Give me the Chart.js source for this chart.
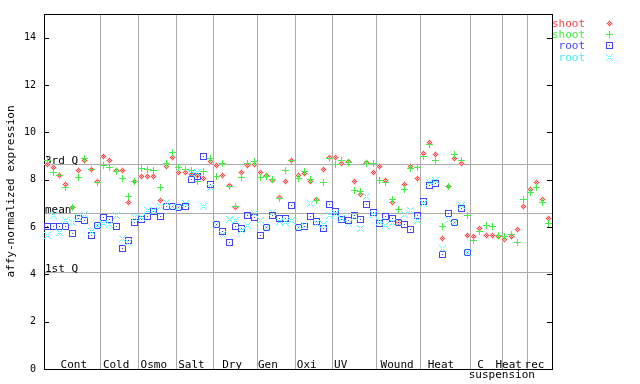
<!DOCTYPE html>
<html>
<head>
<meta charset="utf-8">
<script src="https://cdn.jsdelivr.net/npm/chart.js@4.4.1/dist/chart.umd.min.js"></script>
<style>
  html, body { margin: 0; padding: 0; background: #fff; }
  canvas { display: block; }
</style>
</head>
<body>
<canvas id="exprChart" width="640" height="384"></canvas>
<script>
// categories along the x axis (samples per group)
const categories = ["Cont", "Cold", "Osmo", "Salt", "Dry", "Gen", "Oxi", "UV", "Wound", "Heat", "C", "Heat", "rec"];
const catSizes = [9, 6, 6, 6, 7, 6, 6, 7, 7, 8, 5, 4, 4];
const catLabelAt = [4.75, 11.5, 17.5, 23.5, 30, 35.7, 41.9, 47.3, 56.3, 63.3, 69.6, 74.1, 78.2];
const yTicks = [0, 2, 4, 6, 8, 10, 12, 14];

const refNames = ["3rd Q", "mean", "1st Q"];
const refValues = [8.68, 6.61, 4.08];

// shoot, replicate 1 (red)
const shoot1 = [
  8.65, 8.51, 8.19, 7.80, 6.83, 8.40, 8.82, 8.41, 7.91,
  8.98, 8.82, 8.40, 8.40, 7.04, 7.94,
  8.13, 8.13, 8.13, 7.13, 8.57, 8.92,
  8.30, 8.30, 8.23, 8.17, 8.05, 8.75,
  8.60, 8.18, 7.77, 6.81, 8.30, 8.61, 8.65,
  8.30, 8.19, 7.95, 7.25, 7.94, 8.82,
  8.19, 8.26, 7.91, 7.18, 8.43, 8.94,
  8.94, 8.68, 8.78, 7.94, 7.37, 8.72, 8.30,
  8.56, 7.98, 7.02, 6.20, 7.80, 8.54, 8.05,
  9.10, 9.55, 9.06, 5.52, 7.71, 8.89, 8.68, 5.64,
  5.60, 5.94, 5.64, 5.64, 5.60,
  5.47, 5.60, 5.90, 6.87,
  7.59, 7.88, 7.16, 6.36
];

// shoot, replicate 2 (green)
const shoot2 = [
  8.82, 8.30, 8.19, 7.67, 6.83, 8.09, 8.89, 8.41, 7.88,
  8.60, 8.51, 8.33, 8.05, 7.29, 7.94,
  8.49, 8.44, 8.39, 7.67, 8.67, 9.15,
  8.51, 8.43, 8.39, 7.94, 8.36, 8.89,
  8.12, 8.68, 7.73, 6.85, 8.09, 8.70, 8.75,
  8.09, 8.12, 8.01, 7.20, 8.39, 8.82,
  8.05, 8.36, 8.01, 7.13, 7.88, 8.89,
  8.65, 8.81, 8.72, 7.56, 7.49, 8.68, 8.68,
  7.98, 7.88, 7.18, 6.74, 7.60, 8.47, 8.51,
  9.00, 9.50, 8.81, 6.02, 7.71, 9.06, 8.81, 6.49,
  5.43, 5.81, 6.07, 6.02, 5.64,
  5.60, 5.69, 5.35, 7.16,
  7.46, 7.67, 7.04, 6.15
];

// root, replicate 1 (blue) - no root samples after Heat
const root1 = [
  6.03, 6.03, 6.03, 6.03, 5.73, 6.36, 6.28, 5.66, 6.05,
  6.42, 6.32, 6.04, 5.09, 5.43, 6.19,
  6.32, 6.46, 6.67, 6.45, 6.87, 6.85,
  6.82, 6.85, 8.01, 8.15, 9.00, 7.80,
  6.11, 5.80, 5.35, 6.03, 5.93, 6.49, 6.40,
  5.65, 5.97, 6.48, 6.35, 6.35, 6.90,
  5.97, 6.01, 6.44, 6.23, 5.95, 6.95,
  6.67, 6.33, 6.28, 6.50, 6.32, 6.95, 6.61,
  6.16, 6.44, 6.36, 6.20, 6.11, 5.90, 6.50,
  7.07, 7.77, 7.85, 4.84, 6.57, 6.19, 6.78, 4.91,
  null, null, null, null, null,
  null, null, null, null,
  null, null, null, null
];

// root, replicate 2 (cyan)
const root2 = [
  5.65, 6.47, 5.78, 6.26, 6.19, 6.42, 6.53, 5.81, 6.07,
  6.14, 6.11, 6.50, 5.52, 5.35, 6.42,
  6.39, 6.71, 6.71, 6.85, 7.02, 6.85,
  6.82, 6.99, 8.26, 8.30, 6.85, 7.67,
  6.11, 5.70, 6.32, 6.29, 5.85, 6.08, 6.56,
  6.29, 5.97, 6.61, 6.25, 6.19, 6.28,
  6.00, 6.05, 6.99, 6.13, 6.10, 6.50,
  6.56, 6.36, 6.14, 6.44, 5.94, 7.30, 6.52,
  6.25, 6.06, 6.18, 6.20, 6.53, 6.71, 6.29,
  6.99, 7.90, 7.95, 5.11, 6.33, 6.19, 6.92, 4.91,
  null, null, null, null, null,
  null, null, null, null,
  null, null, null, null
];

// ============================================
// marker images (small pixel glyphs)
// ============================================

function makeMarker(color, paint, color2) {
  const c = document.createElement("canvas");
  c.width = 7;
  c.height = 7;
  const g = c.getContext("2d");
  for (let y = 0; y < 7; y++) {
    for (let x = 0; x < 7; x++) {
      const hit = paint(x - 3, y - 3);
      if (hit === 1) {
        g.fillStyle = color;
        g.fillRect(x, y, 1, 1);
      } else if (hit === 2 && color2) {
        g.fillStyle = color2;
        g.fillRect(x, y, 1, 1);
      }
    }
  }
  return c;
}

const diamondImg = makeMarker("#ff4444", (dx, dy) => {
  if (Math.abs(dx) + Math.abs(dy) > 3) return 0;
  return (dx + dy) % 2 === 0 ? 1 : 2;
}, "#ffc8c8");
const plusImg = makeMarker("#44ee44", (dx, dy) => (dx === 0 || dy === 0 ? 1 : 0));
const squareImg = makeMarker("#4444ff", (dx, dy) =>
  Math.abs(dx) === 3 || Math.abs(dy) === 3 || (dx === 0 && dy === 0) ? 1 : 0);
const crossImg = makeMarker("#55ffff", (dx, dy) => (Math.abs(dx) === Math.abs(dy) && dx !== 0 ? 1 : 0));

const toPoints = (arr) =>
  arr.map((v, i) => (v === null ? null : { x: i + 0.5, y: v })).filter((p) => p);

const totalSamples = catSizes.reduce((a, b) => a + b, 0);
const FONT = "DejaVu Sans Mono";

// ============================================
// drawing of frame, reference lines, labels, legend
// ============================================

const framePlugin = {
  id: "frame",
  beforeDraw(chart) {
    chart.ctx.imageSmoothingEnabled = false;
  },
  beforeDatasetsDraw(chart) {
    const { ctx, chartArea: a, scales } = chart;
    const xs = scales.x;
    const ys = scales.y;
    ctx.save();
    ctx.imageSmoothingEnabled = false;
    ctx.lineWidth = 1;

    // group separators
    ctx.strokeStyle = "#aaaaaa";
    let acc = 0;
    catSizes.forEach((n, k) => {
      acc += n;
      if (k === catSizes.length - 1) return;
      const px = Math.round(xs.getPixelForValue(acc)) + 0.5;
      ctx.beginPath();
      ctx.moveTo(px, a.top);
      ctx.lineTo(px, a.bottom);
      ctx.stroke();
    });

    // reference lines
    refValues.forEach((v, k) => {
      const py = Math.round(ys.getPixelForValue(v)) + 0.5;
      ctx.strokeStyle = "#aaaaaa";
      ctx.beginPath();
      ctx.moveTo(a.left, py);
      ctx.lineTo(a.right, py);
      ctx.stroke();
      ctx.fillStyle = "#000";
      ctx.font = `11px "${FONT}"`;
      ctx.textAlign = "left";
      ctx.textBaseline = "alphabetic";
      ctx.fillText(refNames[k], a.left + 1, py - 1);
    });

    // frame
    ctx.strokeStyle = "#000";
    ctx.strokeRect(Math.round(a.left) + 0.5, Math.round(a.top) + 0.5,
      Math.round(a.right - a.left), Math.round(a.bottom - a.top));

    // inward ticks, left and right
    yTicks.forEach((v) => {
      const py = Math.round(ys.getPixelForValue(v)) + 0.5;
      ctx.beginPath();
      ctx.moveTo(a.left, py);
      ctx.lineTo(a.left + 5, py);
      ctx.moveTo(a.right - 5, py);
      ctx.lineTo(a.right, py);
      ctx.stroke();
    });

    // group labels
    ctx.fillStyle = "#000";
    ctx.font = `11px "${FONT}"`;
    ctx.textAlign = "center";
    ctx.textBaseline = "alphabetic";
    categories.forEach((name, k) => {
      ctx.fillText(name, xs.getPixelForValue(catLabelAt[k]), a.bottom - 1.5);
    });
    ctx.fillText("suspension", xs.getPixelForValue(73), a.bottom + 9);
    ctx.restore();
  },
  afterDraw(chart) {
    const { ctx } = chart;
    ctx.save();
    ctx.imageSmoothingEnabled = false;
    ctx.font = `11px "${FONT}"`;
    ctx.textAlign = "right";
    ctx.textBaseline = "alphabetic";
    chart.data.datasets.forEach((ds, k) => {
      const cy = 23 + k * 11.2;
      ctx.fillStyle = ds.borderColor;
      ctx.fillText(ds.label, 585, cy + 4);
      ctx.drawImage(ds.pointStyle, 606, Math.round(cy) - 3);
    });
    ctx.restore();
  },
};

new Chart(document.getElementById("exprChart"), {
  type: "scatter",
  data: {
    datasets: [
      { label: "shoot", data: toPoints(shoot1), pointStyle: diamondImg, borderColor: "#ff4444", order: 4 },
      { label: "shoot", data: toPoints(shoot2), pointStyle: plusImg, borderColor: "#44ee44", order: 3 },
      { label: "root", data: toPoints(root1), pointStyle: squareImg, borderColor: "#4444ff", order: 2 },
      { label: "root", data: toPoints(root2), pointStyle: crossImg, borderColor: "#44eeee", order: 1 },
    ],
  },
  options: {
    responsive: false,
    animation: false,
    devicePixelRatio: 1,
    layout: { padding: { left: 0, right: 88, top: 13, bottom: 15 } },
    plugins: { legend: { display: false }, tooltip: { enabled: false } },
    elements: { point: { radius: 3.5, hoverRadius: 3.5 } },
    scales: {
      x: { type: "linear", min: 0, max: totalSamples, display: false },
      y: {
        min: 0,
        max: 15,
        afterBuildTicks: (s) => { s.ticks = yTicks.map((v) => ({ value: v })); },
        afterFit: (s) => { s.width = 44; },
        grid: { display: false, drawTicks: false },
        border: { display: false },
        ticks: { color: "#000", padding: 8, font: { family: FONT, size: 10 } },
        title: {
          display: true,
          text: "affy-normalized expression",
          color: "#000",
          padding: { top: 5, bottom: 0 },
          font: { family: FONT, size: 11 },
        },
      },
    },
  },
  plugins: [framePlugin],
});
</script>
</body>
</html>
